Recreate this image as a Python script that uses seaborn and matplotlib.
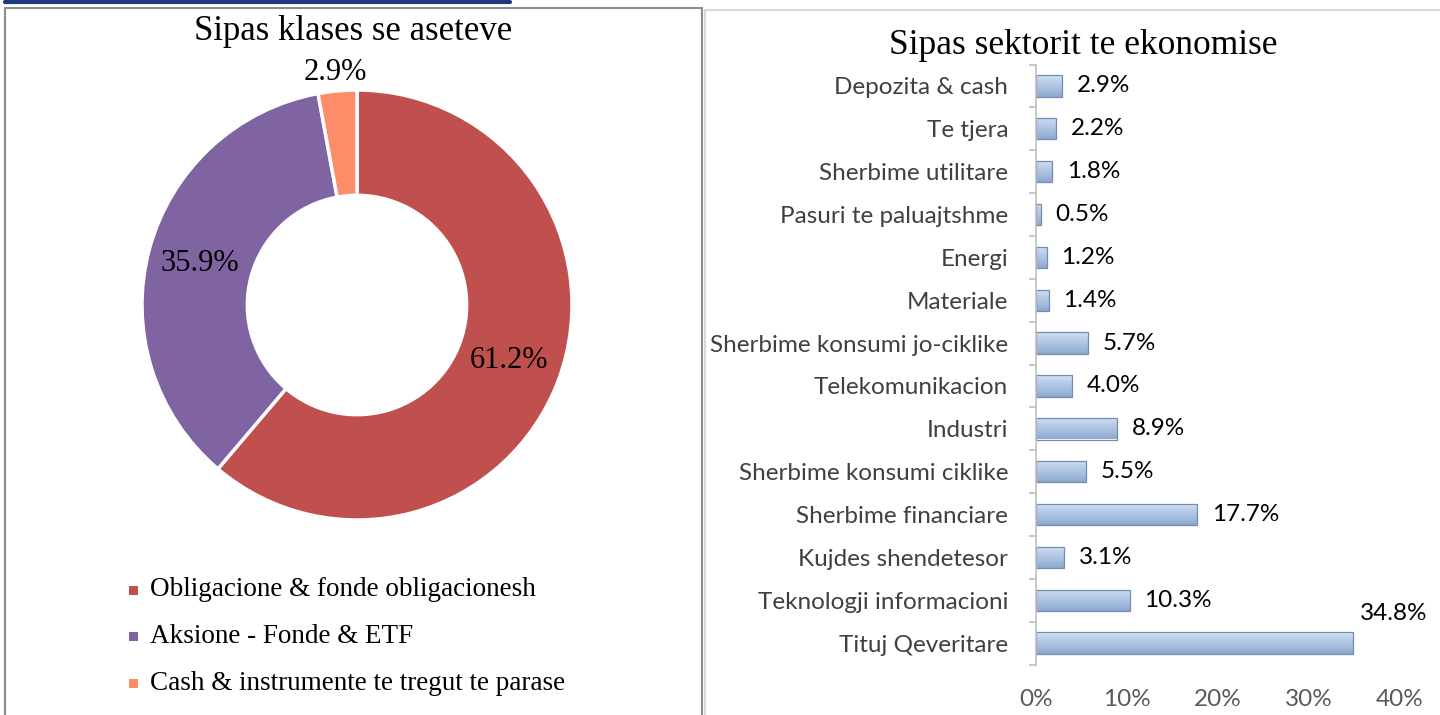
import numpy as np
import pandas as pd
import matplotlib
matplotlib.use("Agg")
import matplotlib.pyplot as plt
from matplotlib.patches import Rectangle
from matplotlib.colors import LinearSegmentedColormap
import seaborn as sns

# ---------------------- Data ----------------------
asset_classes = ["Obligacione & fonde obligacionesh",
                 "Aksione - Fonde & ETF",
                 "Cash & instrumente te tregut te parase"]
asset_shares = [61.2, 35.9, 2.9]
asset_colors = ["#C0504D", "#8064A2", "#FF8C69"]

sectors = ["Depozita & cash", "Te tjera", "Sherbime utilitare",
           "Pasuri te paluajtshme", "Energi", "Materiale",
           "Sherbime konsumi jo-ciklike", "Telekomunikacion", "Industri",
           "Sherbime konsumi ciklike", "Sherbime financiare",
           "Kujdes shendetesor", "Teknologji informacioni", "Tituj Qeveritare"]
sector_shares = [2.9, 2.2, 1.8, 0.5, 1.2, 1.4, 5.7, 4.0, 8.9, 5.5, 17.7, 3.1, 10.3, 34.8]
x_ticks = [0, 10, 20, 30, 40]

# ---------------------- Style ----------------------
sns.set_theme(style="white")
plt.rcParams["font.family"] = ["Liberation Serif", "DejaVu Serif"]
SANS = ["Lato", "DejaVu Sans"]
SANS_SIZE = 17.5

W, H = 1440, 715
fig = plt.figure(figsize=(W / 100, H / 100), dpi=100)


def fx(px):
    return px / W


def fy(py):
    return 1 - py / H


# panel frames
fig.add_artist(Rectangle((fx(5), fy(718)), fx(697), (710) / H, transform=fig.transFigure,
                         fill=False, edgecolor="#8C8C8C", linewidth=1.5))
fig.add_artist(Rectangle((fx(705), fy(718)), fx(740), (708) / H, transform=fig.transFigure,
                         fill=False, edgecolor="#D9D9D9", linewidth=1.5))
fig.add_artist(plt.Line2D([fx(5), fx(510)], [fy(1.5), fy(1.5)], transform=fig.transFigure,
                          color="#1F3A7A", linewidth=3))

# ---------------------- Donut ----------------------
ax1 = fig.add_axes([fx(142), fy(520), 430 / W, 430 / H])
wedges, _ = ax1.pie(asset_shares, colors=asset_colors, startangle=90, counterclock=False,
                    radius=1.0, wedgeprops=dict(width=0.49, edgecolor="white", linewidth=2.5))
ax1.set_xlim(-1, 1)
ax1.set_ylim(-1, 1)
ax1.set_aspect("equal")
ax1.axis("off")

for w, v in zip(wedges, asset_shares):
    ang = np.deg2rad((w.theta1 + w.theta2) / 2)
    r = 0.755 if v > 10 else 1.085
    ax1.text(r * np.cos(ang), r * np.sin(ang), f"{v}%", ha="center", va="center",
             fontsize=22, color="black", clip_on=False)

fig.text(fx(353), fy(31), "Sipas klases se aseteve", ha="center", va="center",
         fontsize=25, color="black")

# legend
for i, (name, col) in enumerate(zip(asset_classes, asset_colors)):
    yy = fy(590 + i * 46.5)
    fig.add_artist(Rectangle((fx(129), yy - 4.5 / H), 9 / W, 9 / H, transform=fig.transFigure,
                             facecolor=col, edgecolor="none"))
    fig.text(fx(150), yy, name, ha="left", va="center", fontsize=19.5, color="black")

# ---------------------- Sector bars ----------------------
ax2 = fig.add_axes([fx(1036), fy(664.5), 364 / W, 600 / H])
df = pd.DataFrame({"sector": sectors, "share": sector_shares})
sns.barplot(data=df, x="share", y="sector", orient="h", ax=ax2, width=0.5,
            color="#A7BFDF", edgecolor="#6F8DB5", linewidth=0.9)

# bevel-like vertical shading: light top, darker bottom
grad = LinearSegmentedColormap.from_list("bevel", ["#D3E1F3", "#B9CDE8", "#A4BCDD", "#8EA8CE"])
gimg = np.linspace(0, 1, 64).reshape(-1, 1)
for p in ax2.patches:
    x0, y0 = p.get_x(), p.get_y()
    w, h = p.get_width(), p.get_height()
    im = ax2.imshow(gimg, cmap=grad, aspect="auto", origin="upper",
                    extent=[x0, x0 + w, y0 + h, y0], zorder=p.get_zorder() + 0.1)
    im.set_clip_path(p)
    p.set_facecolor("none")
    p.set_zorder(p.get_zorder() + 0.2)

ax2.set_xlim(0, 40)
ax2.set_ylim(len(sectors) - 0.5, -0.5)
ax2.set_xticks(x_ticks)
ax2.set_xticklabels([f"{t}%" for t in x_ticks], fontfamily=SANS, fontsize=SANS_SIZE, color="#595959")
ax2.tick_params(axis="x", length=0, pad=18)
ax2.set_yticks(range(len(sectors)))
ax2.set_yticklabels(sectors, fontfamily=SANS, fontsize=SANS_SIZE, color="#404040")
ax2.set_yticks(np.arange(-0.5, len(sectors), 1), minor=True)
ax2.tick_params(axis="y", which="major", length=0, pad=20)
ax2.tick_params(axis="y", which="minor", length=5, color="#BFBFBF", width=1.2, left=True)
ax2.set_xlabel("")
ax2.set_ylabel("")
for s in ["top", "right", "bottom"]:
    ax2.spines[s].set_visible(False)
ax2.spines["left"].set_color("#BFBFBF")
ax2.spines["left"].set_linewidth(1.2)

for i, v in enumerate(sector_shares):
    if v > 30:
        ax2.text(v + 4.5, i - 0.68, f"{v}%", ha="center", va="center",
                 fontfamily=SANS, fontsize=SANS_SIZE, color="black", clip_on=False)
    else:
        ax2.text(v + 1.6, i, f"{v}%", ha="left", va="center",
                 fontfamily=SANS, fontsize=SANS_SIZE, color="black")

fig.text(fx(1083), fy(45), "Sipas sektorit te ekonomise", ha="center", va="center",
         fontsize=25.5, color="black")

fig.savefig("out.png", dpi=100, facecolor="white")
